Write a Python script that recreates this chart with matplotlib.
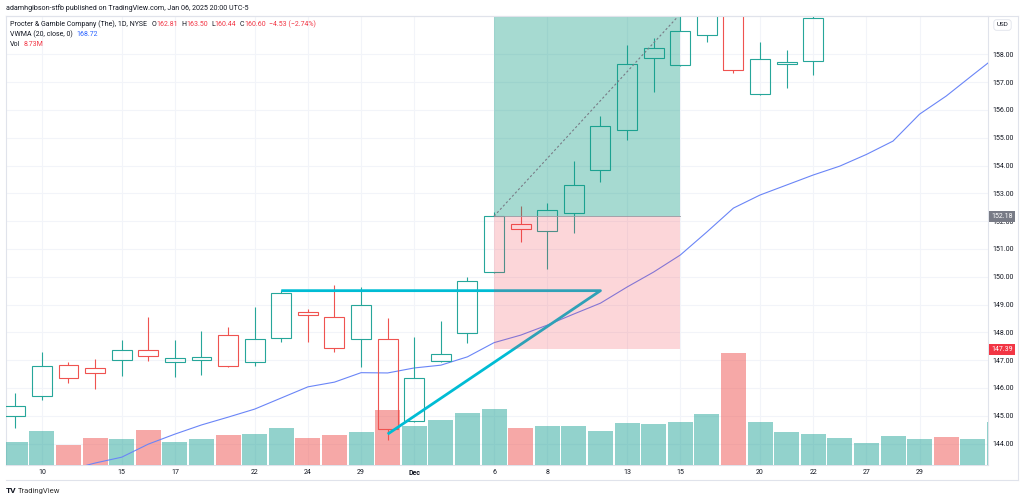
import matplotlib.pyplot as plt
import matplotlib.transforms as mtransforms
from matplotlib.patches import Rectangle
from matplotlib.lines import Line2D

plt.rcParams['font.family'] = ['Roboto', 'DejaVu Sans']

# daily bars, PG, 9 Nov 2021 .. 3 Jan 2022 (trading days)
opens = [144.99, 145.70, 146.81, 146.71, 146.99, 147.35, 146.92, 146.99, 147.91, 146.92,
         147.78, 148.74, 148.54, 147.75, 147.77, 144.80, 146.96, 147.96, 150.16, 151.91,
         151.63, 152.28, 153.83, 155.27, 157.87, 157.60, 158.71, 160.60, 156.58, 157.64,
         157.75, 159.80, 160.90, 162.20, 162.60, 163.30, 162.80, 163.00]
highs = [145.81, 147.28, 146.93, 147.05, 147.72, 148.56, 147.73, 148.05, 148.20, 148.91,
         149.52, 148.84, 149.70, 149.62, 148.50, 147.83, 148.42, 149.98, 152.34, 152.54,
         152.64, 154.16, 155.78, 158.33, 158.60, 159.60, 160.60, 161.00, 158.43, 158.14,
         159.60, 160.90, 162.30, 162.90, 163.40, 163.60, 163.80, 164.50]
lows = [144.55, 145.56, 146.17, 145.95, 146.43, 146.98, 146.39, 146.46, 146.77, 146.80,
        147.64, 147.64, 147.28, 146.76, 144.13, 144.78, 146.94, 147.63, 150.14, 151.26,
        150.27, 151.58, 153.42, 154.91, 156.65, 157.58, 158.43, 157.32, 156.55, 156.78,
        157.27, 159.60, 160.60, 161.80, 162.20, 162.40, 162.50, 162.60]
closes = [145.35, 146.78, 146.36, 146.53, 147.36, 147.14, 147.06, 147.10, 146.78, 147.75,
          149.40, 148.61, 147.42, 148.98, 144.51, 146.36, 147.23, 149.85, 152.18, 151.72,
          152.39, 153.29, 155.43, 157.64, 158.24, 158.83, 160.30, 157.42, 157.82, 157.73,
          159.29, 160.70, 162.10, 162.60, 163.20, 162.70, 163.60, 164.20]
volume_m = [4.6, 6.8, 3.9, 5.4, 5.1, 7.0, 4.6, 5.1, 5.9, 6.1,
            7.4, 5.3, 5.9, 6.6, 10.9, 7.7, 8.9, 10.4, 11.1, 7.4,
            7.7, 7.7, 6.7, 8.3, 8.1, 8.5, 10.1, 22.4, 8.5, 6.5,
            6.1, 5.3, 4.3, 5.7, 5.1, 5.5, 5.1, 8.6]
vwma = [142.30, 142.70, 143.05, 143.30, 143.51, 143.98, 144.34, 144.67, 144.95, 145.24,
        145.64, 146.04, 146.21, 146.55, 146.54, 146.72, 146.82, 147.12, 147.63, 147.90,
        148.26, 148.66, 149.05, 149.63, 150.17, 150.78, 151.61, 152.47, 152.94, 153.30,
        153.66, 153.98, 154.40, 154.88, 155.85, 156.50, 157.26, 158.01]

tick_idx = [1, 4, 6, 9, 11, 13, 15, 18, 20, 23, 25, 28, 30, 32, 34]
tick_labels = ['10', '15', '17', '22', '24', '29', 'Dec', '6', '8', '13', '15', '20', '22', '27', '29']
price_ticks = list(range(144, 159))

# drawings
entry, stop, target = 152.18, 147.39, 159.45
pos_start, pos_end = 18, 25
trend_x = [10, 22, 14]
trend_y = [149.50, 149.50, 144.34]

UP, DOWN = '#26a69a', '#ef5350'
RED = '#f23645'
DARK = '#131722'
W, H = 1024, 500


def fx(px):
    return px / W


def fy(py):
    return 1 - py / H


fig = plt.figure(figsize=(W / 100, H / 100), dpi=100)
rect = [fx(5.7), fy(464.7), (987.7 - 5.7) / W, (464.7 - 15.7) / H]
ax_bg = fig.add_axes(rect)
ax_vol = fig.add_axes(rect, sharex=ax_bg)
ax = fig.add_axes(rect, sharex=ax_bg, sharey=ax_bg)
for a in (ax_vol, ax):
    a.patch.set_visible(False)
    a.axis('off')

ax_bg.set_xlim(-0.361, 36.56)
ax_bg.set_ylim(143.24, 159.39)
ax_bg.set_yticks(price_ticks)
ax_bg.set_yticklabels([f'{p:.2f}' for p in price_ticks])
ax_bg.yaxis.tick_right()
ax_bg.set_xticks(tick_idx)
ax_bg.set_xticklabels(tick_labels)
for lbl in ax_bg.get_xticklabels():
    if lbl.get_text() == 'Dec':
        lbl.set_fontweight('bold')
ax_bg.tick_params(axis='both', length=0, labelsize=5, labelcolor=DARK)
ax_bg.tick_params(axis='y', pad=3.6)
ax_bg.tick_params(axis='x', pad=3)
ax_bg.grid(True, color='#f2f4f9', lw=0.8)
for sp in ax_bg.spines.values():
    sp.set_color('#e0e3eb')
    sp.set_linewidth(0.8)

# volume
n = len(closes)
xs = list(range(n))
vol_colors = [UP if c >= o else DOWN for o, c in zip(opens, closes)]
ax_vol.bar(xs, volume_m, width=0.94, color=vol_colors, alpha=0.5, lw=0)
ax_vol.set_ylim(0, 89.8)

# vwma
ax.plot(xs, vwma, color='#6a85f7', lw=0.8, zorder=2)

# hollow candles
for i, (o, h, l, c) in enumerate(zip(opens, highs, lows, closes)):
    col = UP if c >= o else DOWN
    lo_b, hi_b = min(o, c), max(o, c)
    ax.vlines(i, hi_b, h, color=col, lw=0.8, zorder=3)
    ax.vlines(i, l, lo_b, color=col, lw=0.8, zorder=3)
    ax.add_patch(Rectangle((i - 0.375, lo_b), 0.75, hi_b - lo_b, fill=False,
                           ec=col, lw=0.8, zorder=3))

# trend lines
ax.plot(trend_x, trend_y, color='#00bcd4', lw=2.0, solid_joinstyle='round',
        solid_capstyle='butt', zorder=4)

# long position tool
ax.add_patch(Rectangle((pos_start, entry), pos_end - pos_start, target - entry,
                       color='#089981', alpha=0.36, lw=0, zorder=5))
ax.add_patch(Rectangle((pos_start, stop), pos_end - pos_start, entry - stop,
                       color=RED, alpha=0.2, lw=0, zorder=5))
ax.plot([pos_start, pos_end], [entry, entry], color='#9598a1', lw=0.6, zorder=6)
ax.plot([pos_start, pos_end], [entry, target], color='#787b86', lw=0.8,
        dashes=(2, 2), zorder=6)

# price tags on the axis
tag_tr = mtransforms.blended_transform_factory(ax_bg.transAxes, ax_bg.transData)
for val, fc in ((entry, '#787b86'), (stop, RED)):
    ax_bg.text(1.0144, val, f'{val:.2f}', transform=tag_tr, ha='center', va='center',
               fontsize=5, color='white', clip_on=False, zorder=10,
               bbox=dict(boxstyle='square,pad=0.3', fc=fc, ec='none'))

# outer frame
fig.add_artist(Line2D([fx(5.7), fx(1018)], [fy(480), fy(480)], color='#e0e3eb', lw=0.8))
fig.add_artist(Line2D([fx(1018), fx(1018)], [fy(15.7), fy(480)], color='#e0e3eb', lw=0.8))
fig.add_artist(Line2D([fx(5.7), fx(1018)], [fy(15.7), fy(15.7)], color='#e0e3eb', lw=0.8))

fig.text(fx(1002.5), fy(25), 'USD', ha='center', va='center', fontsize=4.5, color=DARK,
         bbox=dict(boxstyle='round,pad=0.45', fc='white', ec='#e0e3eb', lw=0.6))


def chain_text(parts, x, y, size):
    # lay text pieces side by side, each one anchored to the end of the previous
    first = fig.text(x, y, parts[0][0], color=parts[0][1], fontsize=size, va='bottom')
    prev = first
    for s, c, gap in parts[1:]:
        prev = fig.add_artist(plt.Annotation(s, xy=(1, 0), xycoords=prev,
                                             xytext=(gap, 0), textcoords='offset points',
                                             color=c, fontsize=size, va='bottom', ha='left'))
    return first


fig.text(fx(6), fy(8), 'adamhgibson-stfb published on TradingView.com, Jan 06, 2025 20:00 UTC-5',
         fontsize=5.1, color=DARK, va='center')
chain_text([('Procter & Gamble Company (The), 1D, NYSE', DARK),
            ('O', DARK, 3), ('162.81', RED, 0),
            ('H', DARK, 2.5), ('163.50', RED, 0),
            ('L', DARK, 2.5), ('160.44', RED, 0),
            ('C', DARK, 2.5), ('160.60', RED, 0),
            ('−4.53 (−2.74%)', RED, 2.5)], fx(10), fy(28.5), 5)
chain_text([('VWMA (20, close, 0)', DARK), ('168.72', '#2962ff', 2.5)], fx(10), fy(38), 5)
chain_text([('Vol', DARK), ('8.73M', RED, 2.5)], fx(10), fy(47.5), 5)

fig.text(fx(5.5), fy(490.5), 'TV', fontsize=6, fontweight='bold', color=DARK, va='center')
fig.text(fx(18.3), fy(490.5), 'TradingView', fontsize=5.5, color='#333333', va='center')

fig.savefig('out.png', dpi=100, facecolor='white')
